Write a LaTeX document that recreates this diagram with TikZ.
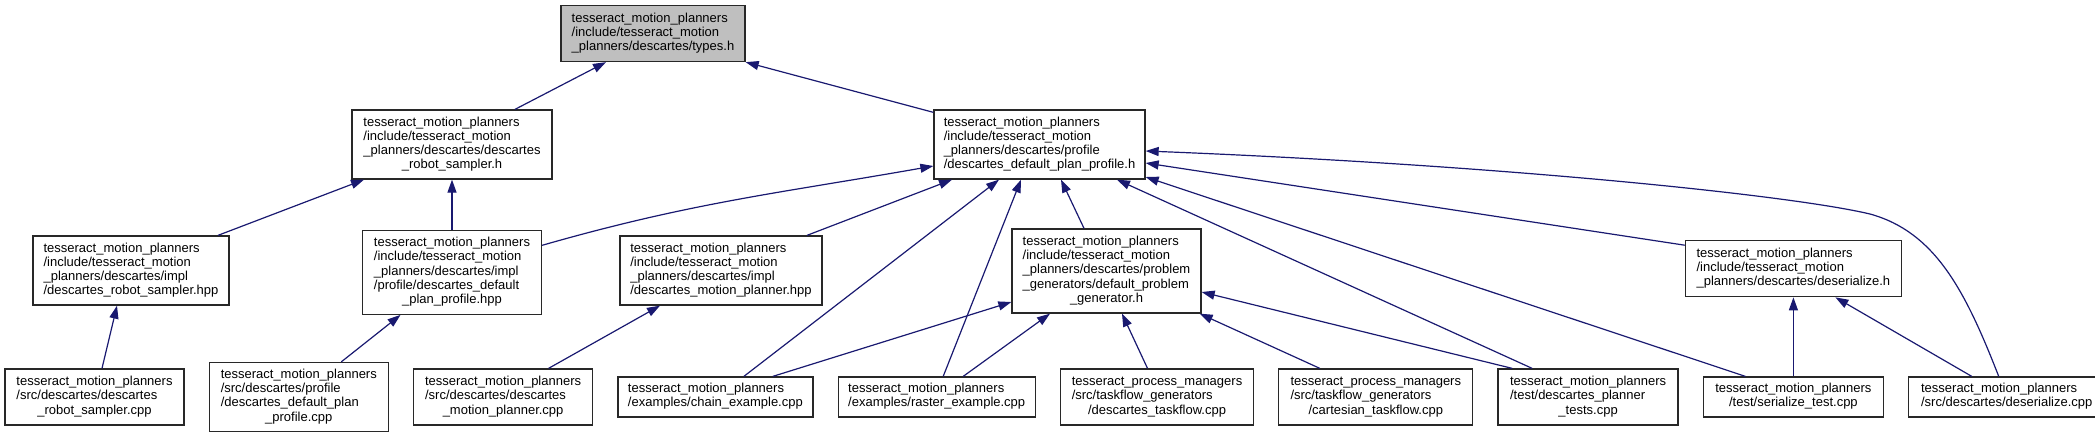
\documentclass[tikz,border=0pt]{standalone}
\usepackage{fontspec}
\setmainfont{Liberation Sans}
\usepackage{xcolor}
\definecolor{edgeblue}{RGB}{25, 25, 112}
\definecolor{framegray}{RGB}{40, 40, 40}
\definecolor{headerfill}{RGB}{191, 191, 191}
\usepackage{tikz}
\usetikzlibrary{positioning, arrows.meta}
\newcommand{\fpath}[1]{\begin{tabular}{@{}l@{}}#1\end{tabular}}
\newcommand{\lastrow}[1]{\multicolumn{1}{@{}c@{}}{#1}}

\begin{document}
\begin{tikzpicture}[
    x=1pt, y=-1pt,
    font=\fontsize{13}{14.2}\selectfont,
    filebox/.style={rectangle, draw=framegray, fill=white, line width=1.3pt, inner sep=0pt},
    mainfile/.style={filebox, fill=headerfill},
    lines2/.style={minimum height=40pt},
    lines3/.style={minimum height=56pt},
    lines4/.style={minimum height=69pt},
    lines5/.style={minimum height=84pt},
    dep/.style={->, >={Triangle[length=13pt, width=9pt]}, line width=1.2pt, color=edgeblue}
]
    \useasboundingbox (0,0) rectangle (2095,437);

    \node[mainfile, lines3, minimum width=184pt] (types) at (653,33.5) {\fpath{tesseract\_motion\_planners\\/include/tesseract\_motion\\\lastrow{\_planners/descartes/types.h}}};

    \node[filebox, lines4, minimum width=200pt] (rsh) at (452,144.5) {\fpath{tesseract\_motion\_planners\\/include/tesseract\_motion\\\_planners/descartes/descartes\\\lastrow{\_robot\_sampler.h}}};
    \node[filebox, lines4, minimum width=211pt] (dpph) at (1039.5,144.5) {\fpath{tesseract\_motion\_planners\\/include/tesseract\_motion\\\_planners/descartes/profile\\\lastrow{/descartes\_default\_plan\_profile.h}}};

    \node[filebox, lines4, minimum width=196pt] (rshpp) at (131,270.5) {\fpath{tesseract\_motion\_planners\\/include/tesseract\_motion\\\_planners/descartes/impl\\\lastrow{/descartes\_robot\_sampler.hpp}}};
    \node[filebox, lines5, minimum width=179pt, below=50pt of rsh] (dpphpp) {\fpath{tesseract\_motion\_planners\\/include/tesseract\_motion\\\_planners/descartes/impl\\/profile/descartes\_default\\\lastrow{\_plan\_profile.hpp}}};
    \node[filebox, lines4, minimum width=202pt] (mphpp) at (721,270.5) {\fpath{tesseract\_motion\_planners\\/include/tesseract\_motion\\\_planners/descartes/impl\\\lastrow{/descartes\_motion\_planner.hpp}}};
    \node[filebox, lines5, minimum width=189pt] (dpgh) at (1106.5,271) {\fpath{tesseract\_motion\_planners\\/include/tesseract\_motion\\\_planners/descartes/problem\\\_generators/default\_problem\\\lastrow{\_generator.h}}};

    \node[filebox, lines3, minimum width=179pt] (rscpp) at (94.5,397) {\fpath{tesseract\_motion\_planners\\/src/descartes/descartes\\\lastrow{\_robot\_sampler.cpp}}};
    \node[filebox, lines4, minimum width=179pt, right=24pt of rscpp] (dppcpp) {\fpath{tesseract\_motion\_planners\\/src/descartes/profile\\/descartes\_default\_plan\\\lastrow{\_profile.cpp}}};
    \node[filebox, lines3, minimum width=179pt, right=24pt of dppcpp] (mpcpp) {\fpath{tesseract\_motion\_planners\\/src/descartes/descartes\\\lastrow{\_motion\_planner.cpp}}};
    \node[filebox, lines2, minimum width=195pt, right=24pt of mpcpp] (chain) {\fpath{tesseract\_motion\_planners\\\lastrow{/examples/chain\_example.cpp}}};
    \node[filebox, lines2, minimum width=197pt, right=24pt of chain] (raster) {\fpath{tesseract\_motion\_planners\\\lastrow{/examples/raster\_example.cpp}}};
    \node[filebox, lines3, minimum width=193pt, right=24pt of raster] (desctf) {\fpath{tesseract\_process\_managers\\/src/taskflow\_generators\\\lastrow{/descartes\_taskflow.cpp}}};
    \node[filebox, lines3, minimum width=194pt, right=24pt of desctf] (carttf) {\fpath{tesseract\_process\_managers\\/src/taskflow\_generators\\\lastrow{/cartesian\_taskflow.cpp}}};
    \node[filebox, lines3, minimum width=180pt, right=24pt of carttf] (plantests) {\fpath{tesseract\_motion\_planners\\/test/descartes\_planner\\\lastrow{\_tests.cpp}}};
    \node[filebox, lines2, minimum width=180pt, right=24pt of plantests] (sertest) {\fpath{tesseract\_motion\_planners\\\lastrow{/test/serialize\_test.cpp}}};
    \node[filebox, lines2, minimum width=196pt, right=24pt of sertest] (dsrcpp) {\fpath{tesseract\_motion\_planners\\\lastrow{/src/descartes/deserialize.cpp}}};

    \node[filebox, lines3, minimum width=216pt, above=79pt of sertest] (dsrh) {\fpath{tesseract\_motion\_planners\\/include/tesseract\_motion\\\lastrow{\_planners/descartes/deserialize.h}}};

    \draw[dep] ([xshift=63pt]rsh.north) -- ([xshift=-47pt]types.south);
    \draw[dep] ([yshift=-3pt]dpph.north west) -- (types.south east);

    \draw[dep] ([xshift=87pt]rshpp.north) -- ([xshift=-88pt]rsh.south);
    \draw[dep] (dpphpp.north) -- (dpphpp.north |- rsh.south);
    \draw[dep] ([yshift=27pt]dpphpp.east) to[out=16, in=190] ([yshift=-21.5pt]dpph.west);
    \draw[dep] ([xshift=86pt]mphpp.north) -- ([xshift=-87.5pt]dpph.south);
    \draw[dep] ([xshift=-22.5pt]dpgh.north) -- ([xshift=21.5pt]dpph.south);
    \draw[dep] ([yshift=23.5pt]dsrh.west) -- ([yshift=-18.5pt]dpph.east);

    \draw[dep] ([xshift=7.5pt]rscpp.north) -- ([xshift=-14pt]rshpp.south);
    \draw[dep] ([xshift=42.5pt]dppcpp.north) -- ([xshift=-51.5pt]dpphpp.south);
    \draw[dep] ([xshift=45.5pt]mpcpp.north) -- ([xshift=-61pt]mphpp.south);
    \draw[dep] ([xshift=28.5pt]chain.north) -- ([xshift=-40.5pt]dpph.south);
    \draw[dep] ([xshift=57.5pt]chain.north) -- ([yshift=-31pt]dpgh.west);
    \draw[dep] ([xshift=6.5pt]raster.north) -- ([xshift=-18.5pt]dpph.south);
    \draw[dep] ([xshift=26.5pt]raster.north) -- ([xshift=-56.5pt]dpgh.south);
    \draw[dep] ([xshift=-9.5pt]desctf.north) -- ([xshift=15.5pt]dpgh.south);
    \draw[dep] ([xshift=-56pt]carttf.north) -- ([xshift=-2pt]dpgh.south east);
    \draw[dep] ([xshift=-56pt]plantests.north) -- ([xshift=77.5pt]dpph.south);
    \draw[dep] ([xshift=-76pt]plantests.north) -- ([yshift=-21pt]dpgh.east);
    \draw[dep] ([xshift=-48pt]sertest.north) -- ([yshift=-32.5pt]dpph.east);
    \draw[dep] (sertest.north) -- (sertest.north |- dsrh.south);
    \draw[dep] ([xshift=-35pt]dsrcpp.north) -- ([xshift=42pt]dsrh.south);
    \draw[dep] ([xshift=-8pt]dsrcpp.north) .. controls (1965,290) and (1935,232) .. (1870,214)
        .. controls (1790,195) and (1500,165) .. ([yshift=-6.5pt]dpph.east);
\end{tikzpicture}
\end{document}
